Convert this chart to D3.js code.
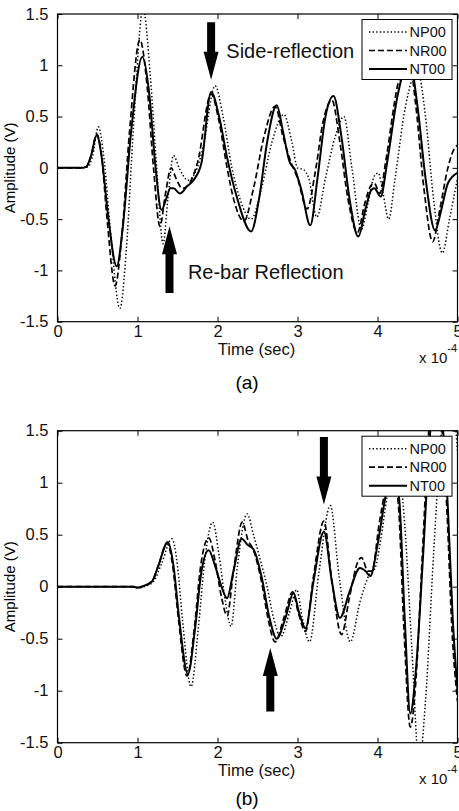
<!DOCTYPE html>
<html>
<head>
<meta charset="utf-8">
<script src="https://cdn.jsdelivr.net/npm/d3@7"></script>
<style>
  html, body { margin: 0; padding: 0; background: #fff; }
  svg { display: block; }
  .tick-label { font-family: "Liberation Sans Narrow", "Liberation Sans", Arial, sans-serif; font-size: 16.5px; fill: #111; }
  .ann { font-family: "Liberation Sans", Arial, sans-serif; font-size: 20px; fill: #111; }
  .leg { font-family: "Liberation Sans", Arial, sans-serif; font-size: 14.5px; fill: #111; }
</style>
</head>
<body>
<svg id="chart"></svg>
<script>
// time in units of 1e-4 s, amplitude in V
const seriesNames = ["NP00", "NR00", "NT00"];
const xTicks = [0, 1, 2, 3, 4, 5];
const yTicks = [-1.5, -1, -0.5, 0, 0.5, 1, 1.5];

// (a)
const npA = [[0,0],[0.3,0],[0.38,0.01],[0.44,0.12],[0.51,0.40],[0.58,0.1],[0.66,-0.6],[0.78,-1.37],[0.86,-0.8],[0.95,0.4],[1.07,1.55],[1.16,0.9],[1.24,0.0],[1.32,-0.74],[1.38,-0.3],[1.45,0.12],[1.52,0.0],[1.63,-0.12],[1.72,-0.05],[1.82,0.2],[1.97,0.80],[2.07,0.5],[2.18,0.0],[2.28,-0.3],[2.42,-0.5],[2.55,-0.2],[2.68,0.25],[2.83,0.52],[2.93,0.25],[3.0,0.0],[3.08,-0.02],[3.14,-0.1],[3.24,-0.48],[3.35,-0.1],[3.47,0.3],[3.58,0.5],[3.68,0.0],[3.80,-0.6],[3.88,-0.35],[3.96,-0.08],[4.01,-0.05],[4.07,-0.25],[4.14,-0.5],[4.22,-0.1],[4.35,0.6],[4.50,0.95],[4.60,0.5],[4.70,-0.3],[4.81,-0.83],[4.9,-0.5],[5.0,-0.1]];
const nrA = [[0,0],[0.3,0],[0.36,0.01],[0.42,0.12],[0.49,0.33],[0.55,0.12],[0.62,-0.5],[0.72,-1.15],[0.80,-0.7],[0.90,0.35],[1.03,1.25],[1.12,0.8],[1.2,0.0],[1.28,-0.57],[1.35,-0.25],[1.42,0.0],[1.48,-0.1],[1.56,-0.2],[1.65,-0.15],[1.75,0.05],[1.92,0.72],[2.02,0.45],[2.12,0.0],[2.2,-0.3],[2.33,-0.52],[2.45,-0.2],[2.58,0.3],[2.72,0.6],[2.82,0.3],[2.92,0.05],[3.0,-0.1],[3.12,-0.4],[3.22,-0.05],[3.32,0.45],[3.43,0.66],[3.53,0.25],[3.63,-0.3],[3.75,-0.63],[3.84,-0.35],[3.92,-0.17],[3.96,-0.15],[4.03,-0.25],[4.1,0.05],[4.25,0.8],[4.38,1.1],[4.48,0.6],[4.58,-0.2],[4.69,-0.72],[4.78,-0.4],[4.88,0.0],[4.97,0.2],[5.0,0.22]];
const ntA = [[0,0],[0.3,0],[0.36,0.01],[0.42,0.12],[0.49,0.32],[0.55,0.12],[0.63,-0.45],[0.74,-0.96],[0.82,-0.55],[0.92,0.35],[1.06,1.08],[1.15,0.7],[1.22,0.05],[1.30,-0.41],[1.36,-0.3],[1.41,-0.2],[1.45,-0.2],[1.53,-0.25],[1.62,-0.18],[1.70,-0.12],[1.80,0.05],[1.92,0.74],[2.02,0.5],[2.12,0.1],[2.24,-0.28],[2.42,-0.62],[2.52,-0.3],[2.62,0.25],[2.74,0.61],[2.82,0.35],[2.90,0.06],[2.97,-0.02],[3.05,-0.22],[3.16,-0.56],[3.25,-0.1],[3.35,0.5],[3.45,0.70],[3.55,0.3],[3.65,-0.3],[3.76,-0.67],[3.85,-0.4],[3.92,-0.22],[3.96,-0.2],[4.04,-0.28],[4.12,0.05],[4.25,0.7],[4.40,1.05],[4.50,0.6],[4.60,-0.1],[4.72,-0.61],[4.80,-0.4],[4.88,-0.15],[5.0,-0.05]];

// (b)
const npB = [[0,0],[0.97,0],[1.02,-0.01],[1.08,0],[1.2,0.05],[1.3,0.22],[1.43,0.46],[1.5,0.2],[1.56,-0.3],[1.67,-0.96],[1.76,-0.4],[1.84,0.25],[1.94,0.62],[2.02,0.3],[2.1,-0.15],[2.17,-0.38],[2.25,0.2],[2.37,0.70],[2.45,0.5],[2.52,0.3],[2.62,0.0],[2.7,-0.3],[2.79,-0.48],[2.9,-0.25],[2.99,-0.03],[3.06,-0.3],[3.15,-0.53],[3.27,0.15],[3.41,0.78],[3.52,0.1],[3.66,-0.53],[3.78,-0.15],[3.9,0.12],[3.97,0.18],[4.04,0.45],[4.12,0.87],[4.24,1.25],[4.34,0.6],[4.43,-0.6],[4.52,-1.7],[4.6,-1.1],[4.7,0.3],[4.8,1.5],[4.9,2.0],[5.0,1.3]];
const nrB = [[0,0],[0.95,0],[1.0,-0.01],[1.05,0],[1.18,0.05],[1.26,0.2],[1.37,0.42],[1.44,0.2],[1.51,-0.3],[1.62,-0.86],[1.71,-0.4],[1.79,0.2],[1.89,0.47],[1.97,0.25],[2.05,-0.1],[2.12,-0.28],[2.2,0.15],[2.31,0.62],[2.38,0.45],[2.45,0.35],[2.55,0.05],[2.63,-0.3],[2.72,-0.53],[2.83,-0.3],[2.94,-0.05],[3.01,-0.25],[3.10,-0.43],[3.2,0.1],[3.33,0.63],[3.43,0.05],[3.55,-0.46],[3.65,-0.1],[3.76,0.25],[3.8,0.28],[3.88,0.15],[3.93,0.15],[4.02,0.6],[4.1,0.95],[4.17,1.2],[4.26,0.8],[4.33,-0.4],[4.41,-1.35],[4.48,-0.9],[4.56,0.3],[4.65,1.6],[4.73,2.0],[4.81,1.5],[4.87,0.7],[4.93,-0.4],[5.0,-1.1]];
const ntB = [[0,0],[0.95,0],[1.0,-0.01],[1.05,0],[1.18,0.05],[1.26,0.2],[1.38,0.43],[1.45,0.2],[1.52,-0.3],[1.63,-0.84],[1.72,-0.4],[1.80,0.15],[1.89,0.35],[1.97,0.2],[2.05,0.0],[2.12,-0.11],[2.2,0.15],[2.30,0.46],[2.38,0.4],[2.45,0.36],[2.55,0.1],[2.65,-0.3],[2.74,-0.50],[2.85,-0.3],[2.95,-0.06],[3.02,-0.25],[3.10,-0.40],[3.2,0.05],[3.33,0.53],[3.43,0.05],[3.53,-0.30],[3.65,-0.05],[3.78,0.18],[3.85,0.15],[3.91,0.10],[4.0,0.4],[4.1,0.87],[4.18,1.15],[4.27,0.85],[4.34,-0.3],[4.41,-1.22],[4.48,-0.8],[4.57,0.3],[4.66,1.5],[4.74,1.9],[4.82,1.5],[4.88,0.75],[4.94,-0.3],[5.0,-1.0]];

// annotations (data coords): arrows [t, vTail, vTip], texts [t, v, label]
const arrowsA = [[1.92, 1.42, 0.86], [1.40, -1.22, -0.57]];
const textsA = [[2.11, 1.07, "Side-reflection"], [1.63, -1.08, "Re-bar Reflection"]];
const arrowsB = [[3.33, 1.44, 0.79], [2.66, -1.20, -0.59]];

const W = 459, H = 811;
const svg = d3.select("#chart").attr("width", W).attr("height", H);

const styles = [
  { dash: "1.4,2.2", width: 1.5 },
  { dash: "6,3", width: 1.7 },
  { dash: null, width: 2 }
];

function panel(id, top, bottom, data, arrows, texts, caption, capDy) {
  const left = 57.5, right = 457.5;
  const x = d3.scaleLinear().domain([0, 5]).range([left, right]);
  const y = d3.scaleLinear().domain([-1.5, 1.5]).range([bottom, top]);
  const g = svg.append("g");

  g.append("clipPath").attr("id", "clip" + id)
    .append("rect").attr("x", left).attr("y", top)
    .attr("width", right - left).attr("height", bottom - top);

  const line = d3.line()
    .x(d => x(d[0])).y(d => y(d[1]))
    .curve(d3.curveMonotoneX);

  const lines = g.append("g").attr("clip-path", `url(#clip${id})`);
  data.forEach((s, i) => {
    lines.append("path")
      .datum(s)
      .attr("d", line)
      .attr("fill", "none")
      .attr("stroke", "#000")
      .attr("stroke-width", styles[i].width)
      .attr("stroke-dasharray", styles[i].dash)
      .attr("stroke-linejoin", "round");
  });

  // axes: ticks inward on all four sides
  const tl = 5;
  const bx = g.append("g").attr("transform", `translate(0,${bottom})`)
    .call(d3.axisBottom(x).tickValues(xTicks).tickSize(-tl).tickPadding(tl + 4).tickFormat(d => String(d)));
  const tx = g.append("g").attr("transform", `translate(0,${top})`)
    .call(d3.axisTop(x).tickValues(xTicks).tickSize(-tl).tickFormat(""));
  const ly = g.append("g").attr("transform", `translate(${left},0)`)
    .call(d3.axisLeft(y).tickValues(yTicks).tickSize(-tl).tickPadding(tl + 4).tickFormat(d => String(d)));
  const ry = g.append("g").attr("transform", `translate(${right},0)`)
    .call(d3.axisRight(y).tickValues(yTicks).tickSize(-tl).tickFormat(""));
  [bx, tx, ly, ry].forEach(a => {
    a.select(".domain").remove();
    a.selectAll(".tick line").attr("stroke", "#000");
    a.selectAll("text").attr("class", "tick-label").attr("font-size", null).attr("font-family", null);
  });
  bx.selectAll("text").attr("dy", null).attr("y", 15);

  g.append("rect").attr("x", left).attr("y", top)
    .attr("width", right - left).attr("height", bottom - top)
    .attr("fill", "none").attr("stroke", "#000").attr("stroke-width", 1.2);

  g.append("text").attr("class", "tick-label")
    .attr("x", (left + right) / 2 - 1).attr("y", bottom + 33)
    .attr("text-anchor", "middle").text("Time (sec)");
  g.append("text")
    .attr("transform", `translate(15,${(top + bottom) / 2}) rotate(-90)`)
    .attr("text-anchor", "middle")
    .style("font-family", "Liberation Sans, Arial, sans-serif")
    .style("font-size", "15px").text("Amplitude (V)");
  const ex = g.append("text").attr("class", "tick-label")
    .attr("x", 419).attr("y", bottom + 41).style("font-size", "15px");
  ex.append("tspan").text("x 10");
  ex.append("tspan").attr("dy", -11).style("font-size", "11px").text("-4");

  g.append("text")
    .attr("x", 247).attr("y", bottom + capDy)
    .attr("text-anchor", "middle")
    .style("font-family", "Liberation Sans, Arial, sans-serif")
    .style("font-size", "19px").text(caption);

  // arrows
  const headLen = 28, headW = 7.5, shaftW = 4;
  arrows.forEach(([t, v0, v1]) => {
    const ax = x(t), y0 = y(v0), y1 = y(v1);
    const dir = Math.sign(y1 - y0);
    const yb = y1 - dir * headLen;
    g.append("path")
      .attr("d", `M${ax - shaftW},${y0}L${ax + shaftW},${y0}L${ax + shaftW},${yb}L${ax + headW},${yb}L${ax},${y1}L${ax - headW},${yb}L${ax - shaftW},${yb}Z`)
      .attr("fill", "#000");
  });
  texts.forEach(([t, v, s]) => {
    g.append("text").attr("class", "ann").attr("x", x(t)).attr("y", y(v)).text(s);
  });

  // legend
  const lg = g.append("g");
  lg.append("rect").attr("x", 362).attr("y", top + 5.5).attr("width", 90).attr("height", 60)
    .attr("fill", "#fff").attr("stroke", "#000").attr("stroke-width", 1);
  seriesNames.forEach((n, i) => {
    const yy = top + 18 + i * 18.5;
    lg.append("line").attr("x1", 369).attr("x2", 407).attr("y1", yy).attr("y2", yy)
      .attr("stroke", "#000").attr("stroke-width", styles[i].width)
      .attr("stroke-dasharray", styles[i].dash);
    lg.append("text").attr("class", "leg").attr("x", 409.5).attr("y", yy + 5.2).text(n);
  });
}

panel("a", 14, 321.7, [npA, nrA, ntA], arrowsA, textsA, "(a)", 67);
panel("b", 430.7, 742.7, [npB, nrB, ntB], arrowsB, [], "(b)", 62);
</script>
</body>
</html>
